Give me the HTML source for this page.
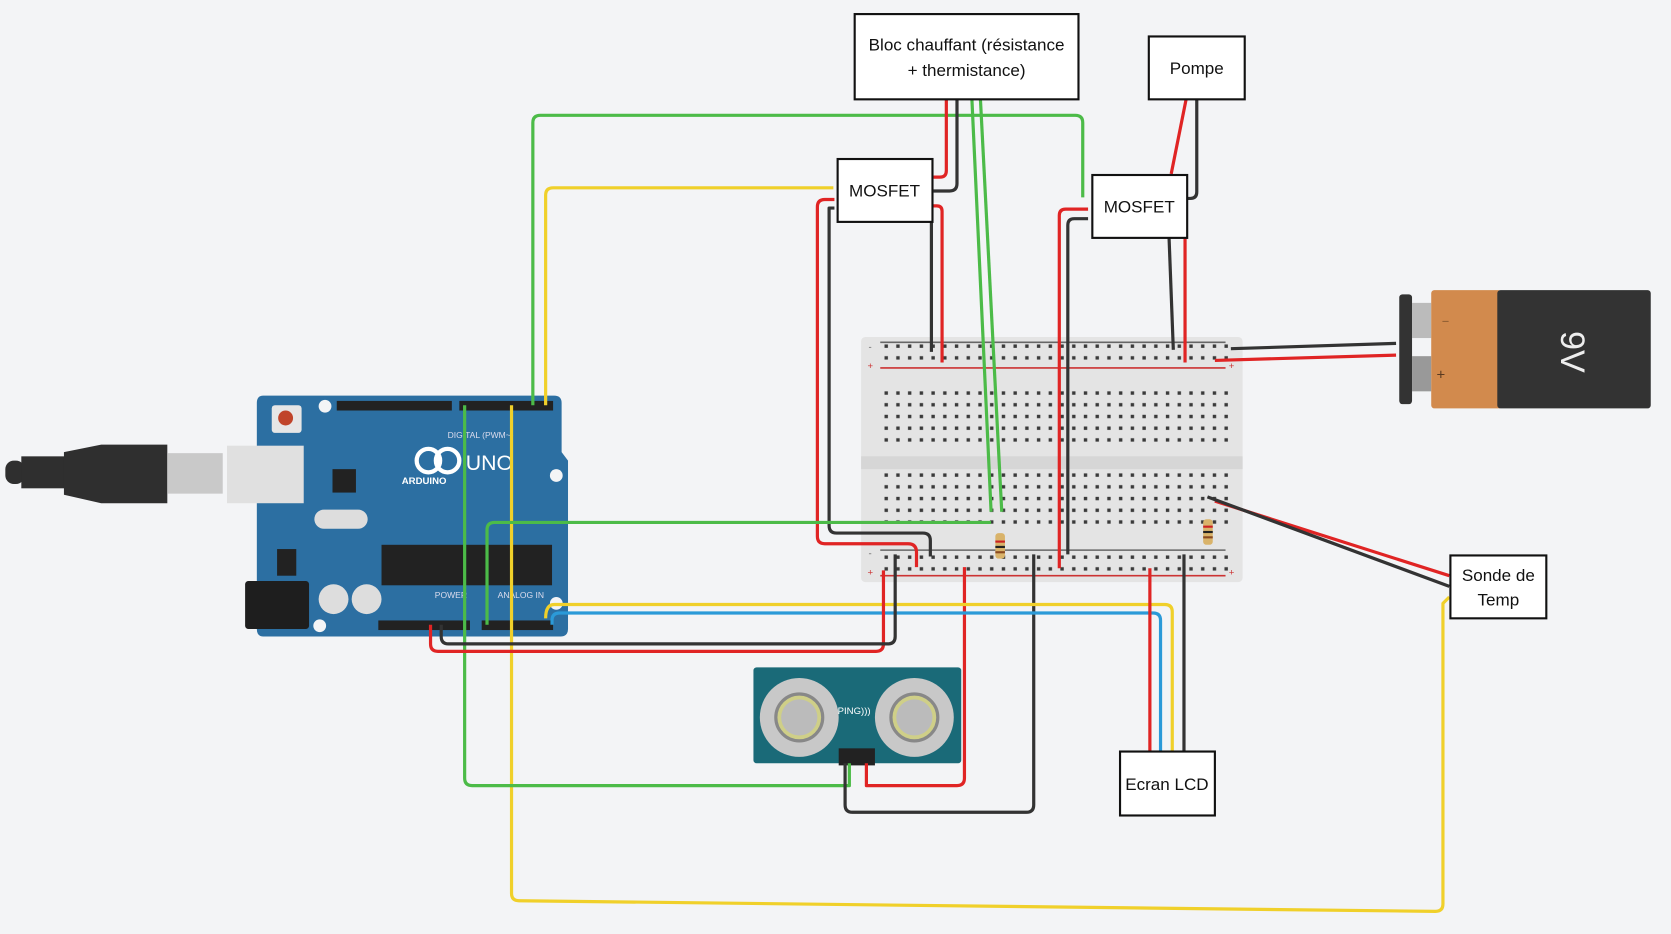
<!DOCTYPE html>
<html><head><meta charset="utf-8"><style>
html,body{margin:0;padding:0;background:#f3f4f6;}
svg{display:block}
text{font-family:"Liberation Sans",sans-serif}
</style></head><body>
<svg width="1671" height="934" viewBox="0 0 1568 876" xmlns="http://www.w3.org/2000/svg">
<defs>
<pattern id="holes" x="826" y="0" width="11" height="11" patternUnits="userSpaceOnUse">
<rect x="4" y="4" width="3.2" height="3.2" fill="#3a3a3a"/>
</pattern>
</defs>
<rect width="1568" height="876" fill="#f3f4f6"/>

<!-- breadboard -->
<rect x="808" y="316" width="358" height="230" rx="4" fill="#e4e4e4"/>
<rect x="808" y="428" width="358" height="12" fill="#d6d6d6"/>
<line x1="826" y1="321" x2="1150" y2="321" stroke="#666" stroke-width="1.5"/>
<line x1="826" y1="345" x2="1150" y2="345" stroke="#c33" stroke-width="1.5"/>
<line x1="826" y1="516" x2="1150" y2="516" stroke="#666" stroke-width="1.5"/>
<line x1="826" y1="540" x2="1150" y2="540" stroke="#c33" stroke-width="1.5"/>
<rect x="826" y="322" width="330" height="22" fill="url(#holes)"/>
<rect x="826" y="363" width="330" height="55" fill="url(#holes)"/>
<rect x="826" y="443" width="330" height="55" fill="url(#holes)"/>
<rect x="826" y="517" width="330" height="22" fill="url(#holes)"/>
<text x="815" y="328" font-size="9" fill="#666">-</text><text x="814" y="346" font-size="9" fill="#c33">+</text>
<text x="815" y="522" font-size="9" fill="#666">-</text><text x="814" y="540" font-size="9" fill="#c33">+</text>
<text x="1153" y="346" font-size="9" fill="#c33">+</text><text x="1153" y="540" font-size="9" fill="#c33">+</text>

<!-- battery -->
<rect x="1313" y="276" width="12" height="103" rx="3" fill="#333"/>
<rect x="1325" y="284" width="18" height="33" fill="#bbb"/>
<rect x="1325" y="334" width="18" height="33" fill="#999"/>
<rect x="1343" y="272" width="66" height="111" rx="3" fill="#d28a4d"/>
<rect x="1405" y="272" width="144" height="111" rx="3" fill="#333"/>
<text x="1353" y="305" font-size="12" fill="#8a5a30">−</text>
<text x="1348" y="356" font-size="14" fill="#5a3a20">+</text>
<text x="1465" y="330" font-size="32" fill="#eee" text-anchor="middle" transform="rotate(90 1465 330)">9V</text>

<!-- USB cable -->
<rect x="5" y="432" width="18" height="22" rx="8" fill="#2f2f2f"/>
<rect x="20" y="428" width="45" height="30" fill="#2f2f2f"/>
<polygon points="60,424 95,417 157,417 157,472 95,472 60,464" fill="#2f2f2f"/>
<rect x="157" y="425" width="52" height="38" fill="#c9c9c9"/>

<!-- Arduino -->
<path d="M247 371 H520 Q527 371 527 378 V424 L533 432 V590 Q533 597 526 597 H247 Q241 597 241 590 V378 Q241 371 247 371 Z" fill="#2c6fa2"/>
<rect x="213" y="418" width="72" height="54" fill="#e0e0e0"/>
<rect x="230" y="545" width="60" height="45" rx="3" fill="#1e1e1e"/>
<rect x="255" y="380" width="28" height="26" rx="3" fill="#e6e6e6"/>
<circle cx="268" cy="392" r="7" fill="#c0442a"/>
<circle cx="305" cy="381" r="6" fill="#f3f4f6"/>
<circle cx="522" cy="446" r="6" fill="#f3f4f6"/>
<circle cx="300" cy="587" r="6" fill="#f3f4f6"/>
<circle cx="522" cy="566" r="6" fill="#f3f4f6"/>
<rect x="316" y="376" width="108" height="9" fill="#222"/>
<rect x="431" y="376" width="88" height="9" fill="#222"/>
<rect x="355" y="582" width="86" height="9" fill="#222"/>
<rect x="452" y="582" width="67" height="9" fill="#222"/>
<rect x="358" y="511" width="160" height="38" fill="#222"/>
<rect x="312" y="440" width="22" height="22" fill="#222"/>
<rect x="295" y="478" width="50" height="18" rx="9" fill="#ddd"/>
<circle cx="313" cy="562" r="14" fill="#ddd"/><circle cx="344" cy="562" r="14" fill="#ddd"/>
<rect x="260" y="515" width="18" height="25" fill="#222"/>
<circle cx="402" cy="432" r="11" fill="none" stroke="#fff" stroke-width="4"/>
<circle cx="420" cy="432" r="11" fill="none" stroke="#fff" stroke-width="4"/>
<text x="377" y="454" font-size="9" fill="#fff" font-weight="bold">ARDUINO</text>
<text x="437" y="441" font-size="20" fill="#fff">UNO</text>
<text x="420" y="411" font-size="8" fill="#dde">DIGITAL (PWM~)</text>
<text x="408" y="561" font-size="8" fill="#dde">POWER</text>
<text x="467" y="561" font-size="8" fill="#dde">ANALOG IN</text>

<!-- ultrasonic -->
<rect x="707" y="626" width="195" height="90" rx="3" fill="#1a6a78"/>
<circle cx="750" cy="673" r="37" fill="#c8c8c8"/><circle cx="750" cy="673" r="22" fill="#cfcf88" stroke="#888" stroke-width="3"/><circle cx="750" cy="673" r="17" fill="#bbb"/>
<circle cx="858" cy="673" r="37" fill="#c8c8c8"/><circle cx="858" cy="673" r="22" fill="#cfcf88" stroke="#888" stroke-width="3"/><circle cx="858" cy="673" r="17" fill="#bbb"/>
<rect x="787" y="702" width="34" height="16" fill="#222"/>
<text x="786" y="670" font-size="9" fill="#fff">PING)))</text>

<!-- wires -->
<g fill="none" stroke-width="3" stroke-linejoin="round">
<path d="M500 380 V115 Q500 108 507 108 H1009 Q1016 108 1016 115 V185" stroke="#4cbb48"/>
<path d="M512 380 V183 Q512 176 519 176 H782" stroke="#f0d02a"/>
<path d="M783 187 H774 Q767 187 767 194 V503 Q767 510 774 510 H852 Q860 510 860 518 V532" stroke="#e02424"/>
<path d="M783 195 H778 V493 Q778 500 785 500 H866 Q873 500 873 507 V522" stroke="#333"/>
<path d="M1021 196 H1000 Q994 196 994 202 V533" stroke="#e02424"/>
<path d="M1021 205 H1008 Q1002 205 1002 211 V520" stroke="#333"/>
<path d="M888 93 V160 Q888 166 882 166 H876" stroke="#e02424"/>
<path d="M898 93 V172 Q898 179 891 179 H876" stroke="#333"/>
<path d="M912 93 L930 480" stroke="#4cbb48"/>
<path d="M920 93 L940 480" stroke="#4cbb48"/>
<path d="M874 208 V330" stroke="#333"/>
<path d="M875 193 H879 Q884 193 884 198 V340" stroke="#e02424"/>
<path d="M1113 93 L1099 163" stroke="#e02424"/>
<path d="M1123 93 V180 Q1123 186 1117 186 H1114" stroke="#333"/>
<path d="M1097 223 L1101 328" stroke="#333"/>
<path d="M1112 210 V340" stroke="#e02424"/>
<path d="M1155 327 L1310 322" stroke="#333"/>
<path d="M1140 338 L1310 333" stroke="#e02424"/>
<path d="M1140 470 L1360 540" stroke="#e02424"/>
<path d="M1133 466 L1360 550" stroke="#333"/>
<path d="M480 380 V838 Q480 845 487 845 L1347 855 Q1354 855 1354 848 V566 L1360 560" stroke="#f0d02a"/>
<path d="M457 586 V497 Q457 490 464 490 H930" stroke="#4cbb48"/>
<path d="M436 380 V730 Q436 737 443 737 H797 V716" stroke="#4cbb48"/>
<path d="M813 716 V737 H898 Q905 737 905 730 V532" stroke="#e02424"/>
<path d="M793 716 V755 Q793 762 800 762 H963 Q970 762 970 755 V520" stroke="#333"/>
<path d="M512 580 Q512 567 520 567 H1093 Q1100 567 1100 574 V705" stroke="#f0d02a"/>
<path d="M518 586 V582 Q518 575 525 575 H1082 Q1089 575 1089 582 V705" stroke="#2b9ad8"/>
<path d="M1079 533 V705" stroke="#e02424"/>
<path d="M1111 520 V705" stroke="#333"/>
<path d="M404 586 V604 Q404 611 411 611 H822 Q829 611 829 604 V535" stroke="#e02424"/>
<path d="M414 586 V597 Q414 604 421 604 H833 Q840 604 840 597 V520" stroke="#333"/>
</g>
<!-- resistors -->
<rect x="934" y="500" width="9" height="24" rx="3" fill="#d9b36a"/>
<rect x="934" y="507" width="9" height="2" fill="#c22"/><rect x="934" y="512" width="9" height="2" fill="#222"/><rect x="934" y="517" width="9" height="2" fill="#8a4a20"/>
<rect x="1129" y="487" width="9" height="24" rx="3" fill="#d9b36a"/>
<rect x="1129" y="493" width="9" height="2" fill="#c22"/><rect x="1129" y="498" width="9" height="2" fill="#222"/><rect x="1129" y="503" width="9" height="2" fill="#8a4a20"/>

<!-- label boxes -->
<g font-size="16" text-anchor="middle" fill="#111">
<rect x="802" y="13" width="210" height="80" fill="#fff" stroke="#111" stroke-width="2"/>
<text x="907" y="47">Bloc chauffant (résistance</text><text x="907" y="71">+ thermistance)</text>
<rect x="1078" y="34" width="90" height="59" fill="#fff" stroke="#111" stroke-width="2"/>
<text x="1123" y="69">Pompe</text>
<rect x="786" y="149" width="89" height="59" fill="#fff" stroke="#111" stroke-width="2"/>
<text x="830" y="184">MOSFET</text>
<rect x="1025" y="164" width="89" height="59" fill="#fff" stroke="#111" stroke-width="2"/>
<text x="1069" y="199">MOSFET</text>
<rect x="1361" y="521" width="90" height="59" fill="#fff" stroke="#111" stroke-width="2"/>
<text x="1406" y="545">Sonde de</text><text x="1406" y="568">Temp</text>
<rect x="1051" y="705" width="89" height="60" fill="#fff" stroke="#111" stroke-width="2"/>
<text x="1095" y="741">Ecran LCD</text>
</g>
</svg>
</body></html>
